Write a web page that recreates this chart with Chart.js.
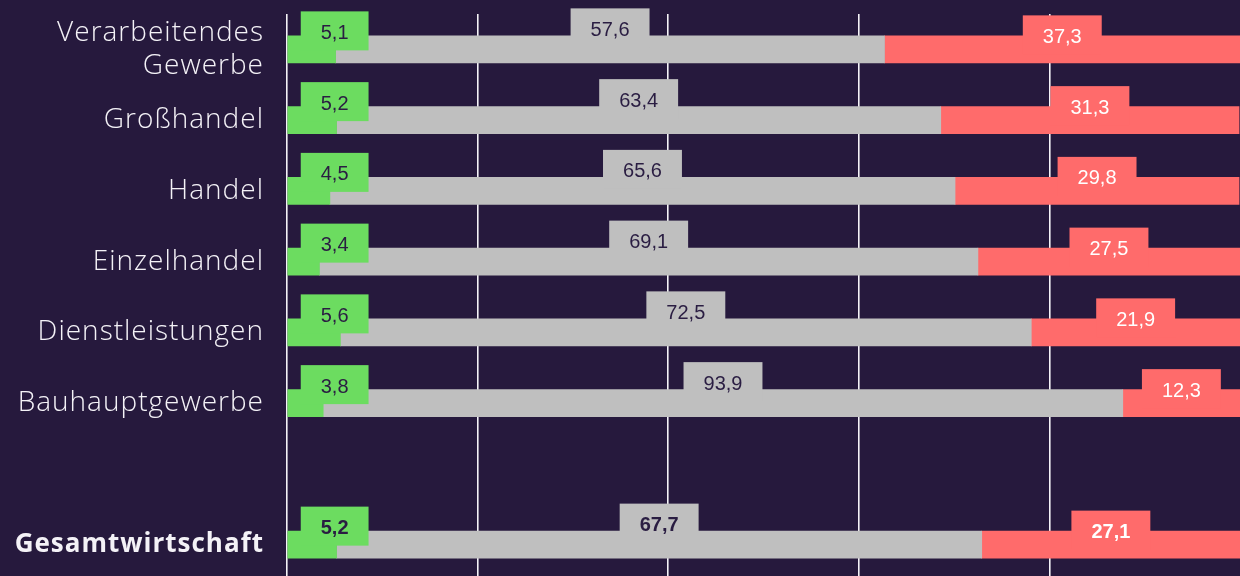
<!DOCTYPE html>
<html>
<head>
<meta charset="utf-8">
<script src="https://cdn.jsdelivr.net/npm/chart.js@4"></script>
<style>
  html, body { margin: 0; padding: 0; background: #26193d; overflow: hidden; }
  canvas { display: block; }
</style>
</head>
<body>
<canvas id="shareChart" width="1240" height="580"></canvas>
<script>
// categories (index 6 is the empty spacer row)
const categories = [
  ['Verarbeitendes', 'Gewerbe'],
  'Großhandel',
  'Handel',
  'Einzelhandel',
  'Dienstleistungen',
  'Bauhauptgewerbe',
  '',
  'Gesamtwirtschaft'
];

// shares in percent
const greenValues = [5.1, 5.2, 4.5, 3.4, 5.6, 3.8, null, 5.2];
// Bauhauptgewerbe bar is drawn at 83,9 in the source, but printed as 93,9
const grayValues  = [57.6, 63.4, 65.6, 69.1, 72.5, 83.9, null, 67.7];
const redValues   = [37.3, 31.3, 29.8, 27.5, 21.9, 12.3, null, 27.1];
const grayPrinted = { 5: '93,9' };

const xTicks = [0, 20, 40, 60, 80, 100];
const greenLabelAt = 5; // green labels sit at a fixed spot

const GREEN = '#6cdc60';
const GRAY = '#bfbfbf';
const RED = '#ff6b6b';
const DARK = '#2a1d42';

const fmt = v => v.toFixed(1).replace('.', ',');

// wider tracking for the category labels (the source font is a wide one)
const tracking = {
  id: 'tracking',
  beforeDraw(chart) { chart.ctx.letterSpacing = '1px'; }
};

// boxed value labels above each segment
const boxLabels = {
  id: 'boxLabels',
  afterDatasetsDraw(chart) {
    const { ctx, scales: { x } } = chart;
    const styles = [
      { bg: GREEN, fg: DARK, dy: -38 },
      { bg: GRAY, fg: DARK, dy: -41 },
      { bg: RED, fg: '#ffffff', dy: -34 }
    ];
    ctx.save();
    ctx.letterSpacing = '0px';
    chart.data.datasets.forEach((ds, di) => {
      const meta = chart.getDatasetMeta(di);
      const st = styles[di];
      meta.data.forEach((bar, i) => {
        const v = ds.data[i];
        if (v == null) return;
        let text = fmt(v);
        if (di === 1 && grayPrinted[i]) text = grayPrinted[i];
        const bold = i === categories.length - 1;
        ctx.font = (bold ? 'bold ' : '') + '20px "Liberation Sans", Arial, sans-serif';
        const w = ctx.measureText(text).width + 40;
        const h = 39;
        let cx = (bar.base + bar.x) / 2;
        if (di === 0) cx = x.getPixelForValue(greenLabelAt);
        const top = bar.y + st.dy;
        ctx.fillStyle = st.bg;
        ctx.fillRect(cx - w / 2, top, w, h);
        ctx.fillStyle = st.fg;
        ctx.textAlign = 'center';
        ctx.textBaseline = 'middle';
        ctx.fillText(text, cx, top + 22);
      });
    });
    ctx.restore();
  }
};

const ctx = document.getElementById('shareChart').getContext('2d');
const shareChart = new Chart(ctx, {
  type: 'bar',
  data: {
    labels: categories,
    datasets: [
      { data: greenValues, backgroundColor: GREEN },
      { data: grayValues, backgroundColor: GRAY },
      { data: redValues, backgroundColor: RED }
    ]
  },
  options: {
    indexAxis: 'y',
    responsive: false,
    animation: false,
    layout: { padding: { top: 14, right: 0, bottom: 0, left: 0 } },
    datasets: { bar: { barThickness: 27, borderWidth: 0 } },
    plugins: {
      legend: { display: false },
      tooltip: { enabled: false }
    },
    scales: {
      x: {
        stacked: true,
        min: 0,
        max: 100,
        afterBuildTicks: axis => { axis.ticks = xTicks.map(v => ({ value: v })); },
        afterFit: s => { s.height = 0; s.paddingLeft = 0; s.paddingRight = 0; },
        ticks: { display: false },
        border: { display: false },
        grid: {
          drawTicks: false,
          lineWidth: 1.6,
          color: c => (c.tick && c.tick.value === 100) ? 'rgba(0,0,0,0)' : '#f4f2f7'
        }
      },
      y: {
        stacked: true,
        afterFit: s => { s.width = 287; s.paddingTop = 0; s.paddingBottom = 0; },
        border: { display: false },
        grid: { display: false, drawTicks: false },
        ticks: {
          padding: 23,
          color: '#f4f2f7',
          font: c => {
            const bold = c.index === categories.length - 1;
            return {
              family: '"Open Sans", sans-serif',
              size: bold ? 26 : 28,
              weight: bold ? 'bold' : '300',
              lineHeight: 1.18
            };
          }
        }
      }
    }
  },
  plugins: [tracking, boxLabels]
});
</script>
</body>
</html>
